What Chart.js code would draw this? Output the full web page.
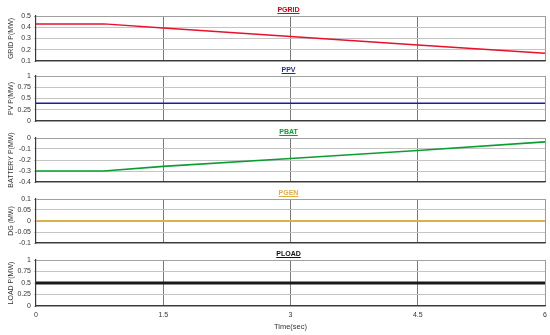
<!DOCTYPE html>
<html>
<head>
<meta charset="utf-8">
<script src="https://cdn.jsdelivr.net/npm/chart.js@4/dist/chart.umd.min.js"></script>
<style>
html,body{margin:0;padding:0;background:#fff;}
#wrap{position:relative;width:550px;height:335px;overflow:hidden;}
#wrap canvas{position:absolute;left:0;}
</style>
</head>
<body>
<div id="wrap"></div>
<script>
// ---- data ----
const time = [0, 0.8, 1.5, 3, 4.5, 6];
const xTicks = [0, 1.5, 3, 4.5, 6];
const pgrid = [0.43, 0.43, 0.393, 0.317, 0.242, 0.168];
const ppv   = [0.395, 0.395, 0.395, 0.395, 0.395, 0.395];
const pbat  = [-0.3, -0.3, -0.258, -0.186, -0.113, -0.035];
const pgen  = [0, 0, 0, 0, 0, 0];
const pload = [0.5, 0.5, 0.5, 0.5, 0.5, 0.5];

const titles = ["PGRID", "PPV", "PBAT", "PGEN", "PLOAD"];
const yLabels = ["GRID P(MW)", "PV P(MW)", "BATTERY P(MW)", "DG (MW)", "LOAD P(MW)"];
const yRanges = [[0.1, 0.5, 0.1], [0, 1, 0.25], [-0.4, 0, 0.1], [-0.1, 0.1, 0.05], [0, 1, 0.25]];
const seriesList = [pgrid, ppv, pbat, pgen, pload];

// ---- layout / style ----
const colors = ["#e8102a", "#1c1c9c", "#0a9e32", "#dcb04a", "#1a1a1a"];
const titleColors = ["#e0001a", "#2a2a9a", "#08a030", "#dcb04a", "#111111"];
const widths = [1.5, 1.5, 1.6, 1.8, 3];
const plotTops = [16, 76, 138, 199, 260];
const plotBottoms = [61, 121, 182, 243, 306];
const FONT = "'Liberation Sans', Arial, sans-serif";
const PAD_TOP = 18, PAD_BOT = 14;

const panelPlugin = {
  id: 'panelDeco',
  afterDraw(chart) {
    const o = chart.options.plugins.panelDeco;
    const a = chart.chartArea;
    const ctx = chart.ctx;
    ctx.save();
    ctx.font = "bold 7px " + FONT;
    ctx.fillStyle = o.color;
    ctx.textAlign = 'center';
    ctx.textBaseline = 'alphabetic';
    const cx = (a.left + a.right) / 2 - 2;
    const by = a.top - 4;
    ctx.fillText(o.text, cx, by);
    const w = ctx.measureText(o.text).width;
    ctx.strokeStyle = o.color;
    ctx.lineWidth = 1;
    ctx.beginPath();
    ctx.moveTo(cx - w / 2, by + 1.5);
    ctx.lineTo(cx + w / 2, by + 1.5);
    ctx.stroke();
    ctx.restore();
  }
};

const wrap = document.getElementById('wrap');

for (let i = 0; i < 5; i++) {
  const last = i === 4;
  const top = plotTops[i] - PAD_TOP;
  const height = last ? (335 - top) : (plotBottoms[i] - plotTops[i] + PAD_TOP + PAD_BOT);
  const cv = document.createElement('canvas');
  cv.width = 550; cv.height = height;
  cv.style.top = top + 'px';
  cv.style.width = '550px'; cv.style.height = height + 'px';
  wrap.appendChild(cv);

  const [ymin, ymax, ystep] = yRanges[i];
  new Chart(cv, {
    type: 'line',
    data: {
      datasets: [{
        label: titles[i],
        data: time.map((t, k) => ({x: t, y: seriesList[i][k]})),
        borderColor: colors[i],
        borderWidth: widths[i],
        pointRadius: 0,
        fill: false,
        tension: 0
      }]
    },
    options: {
      responsive: false,
      animation: false,
      devicePixelRatio: 1,
      layout: {padding: {top: PAD_TOP, right: 5, left: 0, bottom: last ? 0 : PAD_BOT}},
      plugins: {
        legend: {display: false},
        tooltip: {enabled: false},
        panelDeco: {text: titles[i], color: titleColors[i]}
      },
      scales: {
        x: {
          type: 'linear', min: 0, max: 6,
          afterBuildTicks: s => { s.ticks = xTicks.map(v => ({value: v})); },
          afterFit: s => { s.height = last ? 29 : 0; s.paddingLeft = 0; s.paddingRight = 0; },
          grid: {
            drawTicks: false,
            color: c => c.tick && c.tick.value === 0 ? 'rgba(0,0,0,0)' : (c.tick && c.tick.value === 6 ? '#9a9a9a' : '#7a7a7a'),
            lineWidth: 1
          },
          border: {color: '#3a3a3a', width: 1.2},
          ticks: {
            display: last,
            autoSkip: false,
            maxRotation: 0,
            padding: 5,
            color: '#333',
            font: {family: FONT, size: 7},
            callback: v => String(v)
          },
          title: {
            display: last,
            text: 'Time(sec)',
            color: '#333',
            font: {family: FONT, size: 7.5},
            padding: {top: 0, bottom: 4}
          }
        },
        y: {
          min: ymin, max: ymax,
          ticks: {
            stepSize: ystep,
            autoSkip: false,
            padding: 3,
            color: '#333',
            font: {family: FONT, size: 7},
            callback: v => String(Number(v.toFixed(2)))
          },
          afterFit: s => { s.width = 36; s.paddingTop = 0; s.paddingBottom = 0; },
          grid: {
            drawTicks: true,
            tickLength: 2,
            color: c => (c.tick && Math.abs(c.tick.value - ymax) < 1e-9) ? '#a0a0a0' : '#c4c4c4'
          },
          border: {color: '#3a3a3a', width: 1.2},
          title: {
            display: true,
            text: yLabels[i],
            color: '#333',
            font: {family: FONT, size: 7},
            padding: {top: 7, bottom: 4}
          }
        }
      }
    },
    plugins: [panelPlugin]
  });
}
</script>
</body>
</html>
